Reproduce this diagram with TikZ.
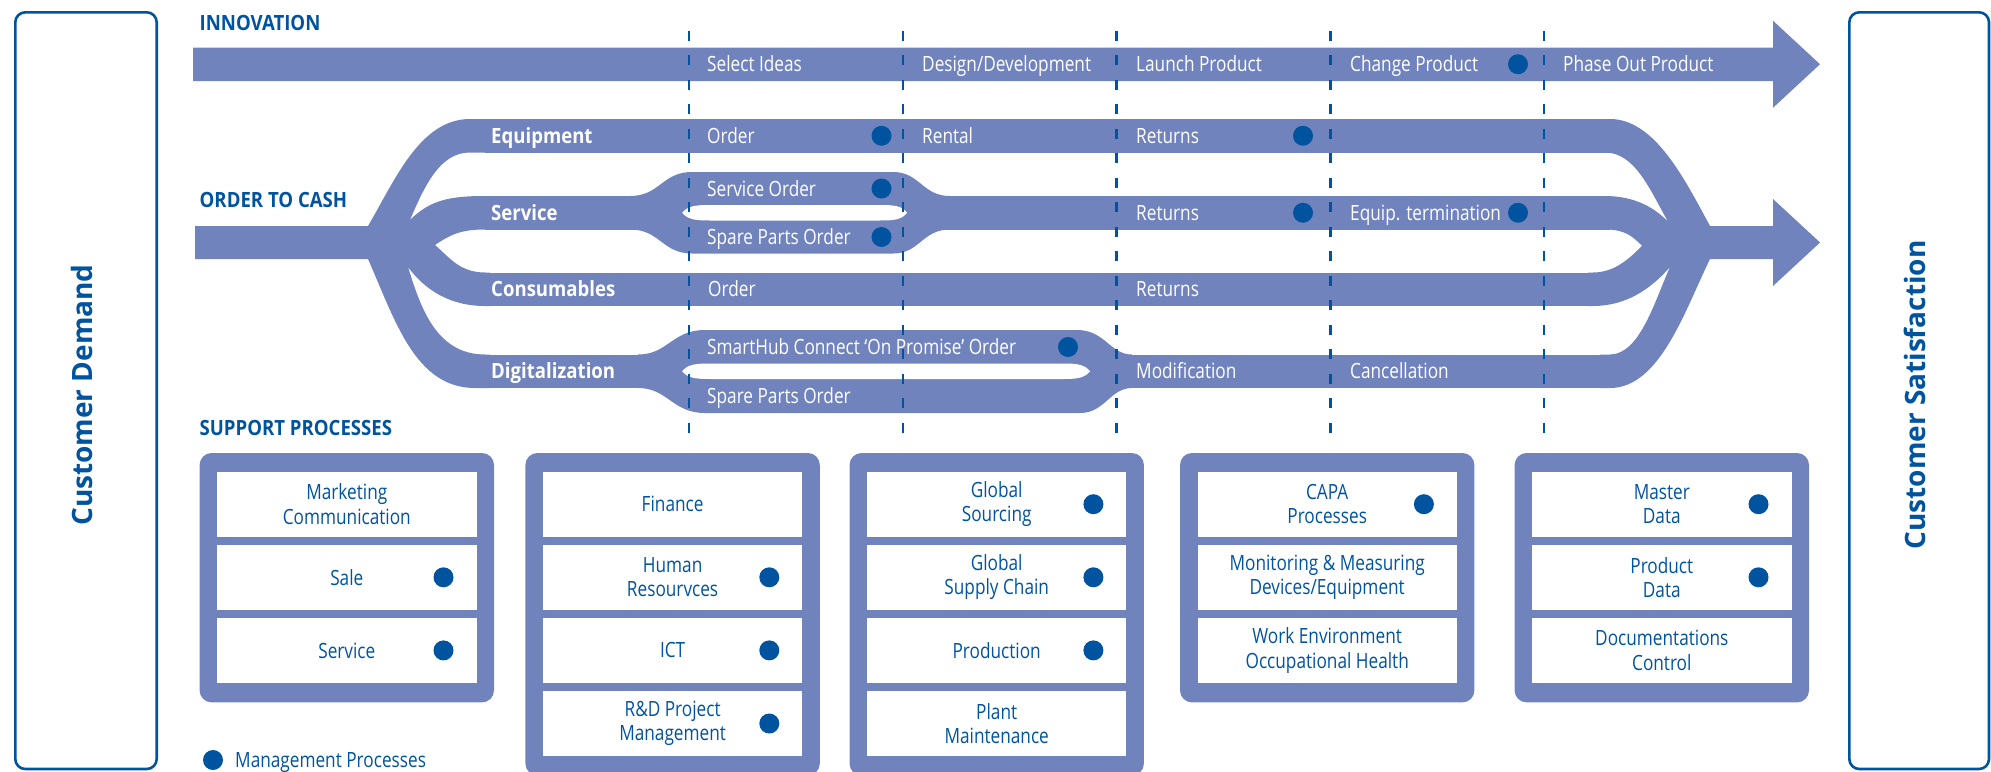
\documentclass[tikz,border=0pt]{standalone}
\usepackage{fontspec}
\setmainfont{Open Sans}
\newfontfamily\cf{Open Sans}[FakeStretch=0.82]
\newfontfamily\bcf{Open Sans}[FakeStretch=0.885]
\newfontfamily\wf{Open Sans}
\definecolor{band}{RGB}{112,131,189}
\definecolor{dblue}{RGB}{0,84,159}
\begin{document}
\begin{tikzpicture}[x=1pt,y=-1pt,
  lbl/.style={anchor=base west, text=white, inner sep=0pt, font={\cf\fontsize{21}{24}\selectfont}},
  blbl/.style={anchor=base west, text=white, inner sep=0pt, font={\bcf\bfseries\fontsize{21}{24}\selectfont}},
  head/.style={anchor=base west, text=dblue, inner sep=0pt, font={\bcf\bfseries\fontsize{21}{24}\selectfont}},
  mdot/.style={circle, fill=dblue, minimum size=20pt, inner sep=0pt},
  cell/.style={fill=white, minimum width=259.4pt, minimum height=65pt, inner sep=0pt, align=center, text=dblue, font={\cf\fontsize{21}{24.3}\selectfont}},
  sbox/.style={fill=band, rounded corners=12pt},
  side/.style={draw=dblue, line width=2.6pt, rounded corners=10pt},
  sidetxt/.style={rotate=90, text=dblue, inner sep=0pt, font={\wf\bfseries\fontsize{28}{30}\selectfont}},
  phase/.style={draw=dblue, line width=2.3pt, dash pattern=on 10pt off 14.5pt}
]
\useasboundingbox (0,0) rectangle (1991,771);

% ---------- Innovation arrow
\fill[band] (193,47.5) -- (1773,47.5) -- (1773,20.75) -- (1820,64.25) -- (1773,107.75) -- (1773,81) -- (193,81) -- cycle;

% ---------- Left fan
\fill[band] (195,226) -- (368,226)
  .. controls (395,180) and (420,119) .. (470,119) -- (490,119) -- (490,152.5) -- (470,152.5)
  .. controls (440,152.5) and (425,185) .. (410,220)
  .. controls (430,200) and (450,196) .. (485,196) -- (490,196) -- (490,229.5) -- (485,229.5)
  .. controls (460,229.5) and (450,235) .. (435,245)
  .. controls (450,258) and (460,272.5) .. (485,272.5) -- (490,272.5) -- (490,306) -- (485,306)
  .. controls (450,306) and (425,290) .. (408,267)
  .. controls (420,305) and (435,354.5) .. (485,354.5) -- (490,354.5) -- (490,388) -- (475,388)
  .. controls (415,388) and (395,320) .. (368,259) -- (195,259) -- cycle;

% ---------- straight bands
\fill[band] (485,119) rectangle (1615,152.5);
\fill[band] (485,196) rectangle (640,229.5);
\fill[band] (940,196) rectangle (1610,229.5);
\fill[band] (485,272.5) rectangle (1598,306);
\fill[band] (485,354.5) rectangle (645,388);
\fill[band] (1125,354.5) rectangle (1615,388);

% ---------- Service eye
\fill[band] (630,196) .. controls (660,196) and (662,172) .. (692,172) -- (893,172)
  .. controls (920,172) and (922,196) .. (950,196) -- (950,229.5)
  .. controls (922,229.5) and (920,253.5) .. (893,253.5) -- (692,253.5)
  .. controls (662,253.5) and (660,229.5) .. (630,229.5) -- cycle;
\fill[white] (682,212.75) .. controls (688,206) and (695,205) .. (710,205) -- (880,205)
  .. controls (895,205) and (902,206) .. (907,212.75)
  .. controls (902,219.5) and (895,220.5) .. (880,220.5) -- (710,220.5)
  .. controls (695,220.5) and (688,219.5) .. (682,212.75) -- cycle;

% ---------- Digitalization eye
\fill[band] (638,354.5) .. controls (668,354.5) and (672,330) .. (705,330) -- (1077,330)
  .. controls (1105,330) and (1110,354.5) .. (1132,354.5) -- (1132,388)
  .. controls (1110,388) and (1105,413) .. (1080,413) -- (705,413)
  .. controls (672,413) and (668,388) .. (638,388) -- cycle;
\fill[white] (682,371.25) .. controls (688,364.5) and (695,363.5) .. (710,363.5) -- (1065,363.5)
  .. controls (1078,363.5) and (1085,365) .. (1090,371.25)
  .. controls (1085,377.5) and (1078,379) .. (1065,379) -- (710,379)
  .. controls (695,379) and (688,378) .. (682,371.25) -- cycle;

% ---------- Right fan with arrow
\fill[band] (1600,119) -- (1610,119) .. controls (1655,119) and (1685,180) .. (1710,226)
  -- (1773,226) -- (1773,199) -- (1820,242.5) -- (1773,286) -- (1773,259) -- (1710,259)
  .. controls (1685,310) and (1660,388) .. (1610,388) -- (1600,388) -- (1600,354.5) -- (1610,354.5)
  .. controls (1640,354.5) and (1655,300) .. (1670,267)
  .. controls (1650,290) and (1625,306) .. (1593,306) -- (1588,306) -- (1588,272.5) -- (1593,272.5)
  .. controls (1615,272.5) and (1630,258) .. (1642,245.7)
  .. controls (1632,236) and (1625,229.5) .. (1605,229.5) -- (1600,229.5) -- (1600,196) -- (1605,196)
  .. controls (1635,196) and (1655,208) .. (1668,221.7)
  .. controls (1650,190) and (1635,152.5) .. (1605,152.5) -- (1600,152.5) -- cycle;

% ---------- headings
\node[head] (hInn) at (199.5,30) {INNOVATION};
\node[head] (hOtc) at (199.5,207) {ORDER TO CASH};
\node[head] (hSup) at (199.5,435) {SUPPORT PROCESSES};

% ---------- innovation labels
\node[lbl] (i1) at (707,71.75) {Select Ideas};
\node[lbl] (i2) at (922,71.75) {Design/Development};
\node[lbl] (i3) at (1136,71.75) {Launch Product};
\node[lbl] (i4) at (1350,71.75) {Change Product};
\node[lbl] (i5) at (1563,71.75) {Phase Out Product};
\node[mdot] (di4) at (1518,64.25) {};

% ---------- equipment
\node[blbl] (bEq) at (491,143.25) {Equipment};
\node[lbl] (e1) at (707,143.25) {Order};
\node[mdot] (de1) at (881.5,135.75) {};
\node[lbl] (e2) at (922,143.25) {Rental};
\node[lbl] (e3) at (1136,143.25) {Returns};
\node[mdot] (de3) at (1303,135.75) {};

% ---------- service
\node[blbl] (bSe) at (491,220.25) {Service};
\node[lbl] (s1) at (707,196) {Service Order};
\node[mdot] (ds1) at (881.5,188.5) {};
\node[lbl] (s2) at (707,244.5) {Spare Parts Order};
\node[mdot] (ds2) at (881.5,237) {};
\node[lbl] (s3) at (1136,220.25) {Returns};
\node[mdot] (ds3) at (1303,212.75) {};
\node[lbl] (s4) at (1350,220.25) {Equip. termination};
\node[mdot] (ds4) at (1518,212.75) {};

% ---------- consumables
\node[blbl] (bCo) at (491,296.75) {Consumables};
\node[lbl] (k1) at (708,296.75) {Order};
\node[lbl] (k2) at (1136,296.75) {Returns};

% ---------- digitalization
\node[blbl] (bDi) at (491,378.75) {Digitalization};
\node[lbl] (g1) at (707,354.5) {SmartHub Connect ‘On Promise’ Order};
\node[mdot] (dg1) at (1068,347) {};
\node[lbl] (g2) at (707,403.5) {Spare Parts Order};
\node[lbl] (g3) at (1136,378.75) {Modification};
\node[lbl] (g4) at (1350,378.75) {Cancellation};

% ---------- support boxes
\fill[sbox] (199.6,453) rectangle ++(294.4,249.4);
\fill[sbox] (525.4,453) rectangle ++(294.4,322.5);
\fill[sbox] (849.5,453) rectangle ++(294.4,322.5);
\fill[sbox] (1180,453) rectangle ++(294.4,249.4);
\fill[sbox] (1514.6,453) rectangle ++(294.4,249.4);

\node[cell] (c11) at (346.8,504.2) {Marketing\\Communication};
\node[cell] (c12) at (346.8,577.3) {Sale};
\node[cell] (c13) at (346.8,650.4) {Service};
\node[mdot] (dc12) at (443.5,577.3) {};
\node[mdot] (dc13) at (443.5,650.4) {};

\node[cell] (c21) at (672.6,504.2) {Finance};
\node[cell] (c22) at (672.6,577.3) {Human\\Resourvces};
\node[cell] (c23) at (672.6,650.4) {ICT};
\node[cell] (c24) at (672.6,723.5) {R\&D Project\\Management};
\node[mdot] (dc22) at (769.3,577.3) {};
\node[mdot] (dc23) at (769.3,650.4) {};
\node[mdot] (dc24) at (769.3,723.5) {};

\node[cell] (c31) at (996.7,504.2) {Global\\Sourcing};
\node[cell] (c32) at (996.7,577.3) {Global\\Supply Chain};
\node[cell] (c33) at (996.7,650.4) {Production};
\node[cell] (c34) at (996.7,723.5) {Plant\\Maintenance};
\node[mdot] (dc31) at (1093.4,504.2) {};
\node[mdot] (dc32) at (1093.4,577.3) {};
\node[mdot] (dc33) at (1093.4,650.4) {};

\node[cell] (c41) at (1327.2,504.2) {CAPA\\Processes};
\node[cell] (c42) at (1327.2,577.3) {Monitoring \& Measuring\\Devices/Equipment};
\node[cell] (c43) at (1327.2,650.4) {Work Environment\\Occupational Health};
\node[mdot] (dc41) at (1423.9,504.2) {};

\node[cell] (c51) at (1661.8,504.2) {Master\\Data};
\node[cell] (c52) at (1661.8,577.3) {Product\\Data};
\node[cell] (c53) at (1661.8,650.4) {Documentations\\Control};
\node[mdot] (dc51) at (1758.5,504.2) {};
\node[mdot] (dc52) at (1758.5,577.3) {};

% ---------- legend
\node[mdot] (dleg) at (213,760) {};
\node[anchor=base west, text=dblue, inner sep=0pt, font={\cf\fontsize{21}{24}\selectfont}] (leg) at (235,767.5) {Management Processes};

% ---------- phase separators
\foreach \px in {689,903,1116.5,1330.5,1544}{
  \draw[phase] (\px,30.7) -- (\px,433);
}

% ---------- side boxes
\draw[side] (15.3,12.3) rectangle (156.7,769);
\draw[side] (1849.3,12.3) rectangle (1989,769);
\node[sidetxt] (cd) at (81.5,395) {Customer Demand};
\node[sidetxt] (cs) at (1915,395) {Customer Satisfaction};
\end{tikzpicture}
\end{document}
